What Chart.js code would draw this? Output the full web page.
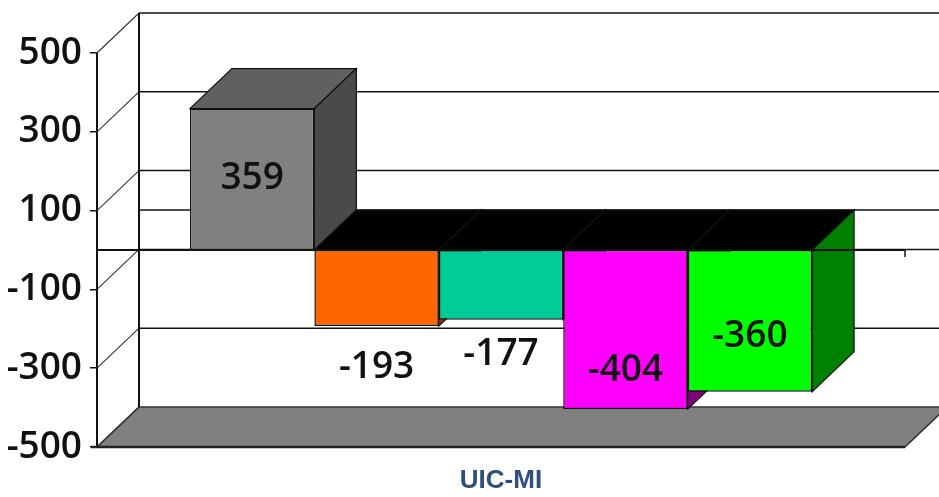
<!DOCTYPE html>
<html>
<head>
<meta charset="utf-8">
<title>UIC-MI</title>
<script src="https://cdn.jsdelivr.net/npm/chart.js@4.4.1/dist/chart.umd.min.js"></script>
<style>
    html, body { margin: 0; background: #fff; }
    canvas { display: block; }
</style>
</head>
<body>
<canvas id="grafico" width="939" height="497"></canvas>
<script>
// Datos del gráfico
const categorias = ['UIC-MI'];
const series = ['Serie 1', 'Serie 2', 'Serie 3', 'Serie 4', 'Serie 5'];
const valores = [359, -193, -177, -404, -360];
const ticksY = [-500, -300, -100, 100, 300, 500];

// Colores de cada barra: frente, tapa y lado
const coloresFrente = ['#808080', '#ff6600', '#00cc99', '#ff00ff', '#00ff00'];
const coloresTapa = ['#606060', '#000000', '#000000', '#000000', '#000000'];
const coloresLado = ['#4a4a4a', '#993d00', '#007a5c', '#800080', '#008000'];

// Desplazamiento vertical de las etiquetas respecto al extremo de la barra
const desplazEtiquetas = [70, 41, 35, -39, -55];

// Profundidad del efecto 3D
const prof = { dx: 42, dy: -40 };

const fuente = '"Open Sans", "Liberation Sans", sans-serif';

function poligono(ctx, puntos, relleno, borde, grosor) {
    ctx.beginPath();
    ctx.moveTo(puntos[0][0], puntos[0][1]);
    for (let i = 1; i < puntos.length; i++) ctx.lineTo(puntos[i][0], puntos[i][1]);
    ctx.closePath();
    if (relleno) { ctx.fillStyle = relleno; ctx.fill(); }
    if (borde) { ctx.strokeStyle = borde; ctx.lineWidth = grosor || 1; ctx.stroke(); }
}

function linea(ctx, x1, y1, x2, y2, color, grosor) {
    ctx.beginPath();
    ctx.moveTo(x1, y1);
    ctx.lineTo(x2, y2);
    ctx.strokeStyle = color;
    ctx.lineWidth = grosor;
    ctx.stroke();
}

// Plugin que dibuja paredes, suelo y caras laterales de las barras
const efecto3D = {
    id: 'efecto3D',
    beforeDatasetsDraw(chart) {
        const { ctx, chartArea: a, scales: { y } } = chart;
        const { dx, dy } = prof;
        ctx.save();

        // Suelo en el valor mínimo
        const ySuelo = y.getPixelForValue(ticksY[0]);
        poligono(ctx, [[a.left, ySuelo], [a.right, ySuelo], [a.right + dx, ySuelo + dy], [a.left + dx, ySuelo + dy]], '#808080', '#333', 1.5);

        // Líneas de la pared del fondo y diagonales de la pared izquierda
        ticksY.concat([0]).forEach((v) => {
            const py = y.getPixelForValue(v);
            if (v !== ticksY[0]) linea(ctx, a.left + dx, py + dy, a.right + dx + 10, py + dy, '#111', 1.5);
            if (v !== 0) linea(ctx, a.left, py, a.left + dx, py + dy, '#333', 1.1);
        });
        linea(ctx, a.left + dx, a.top + dy, a.left + dx, ySuelo + dy, '#111', 2);

        // Caras superiores y laterales de cada barra
        chart.data.datasets.forEach((ds, i) => {
            const el = chart.getDatasetMeta(i).data[0];
            const p = el.getProps(['x', 'y', 'base', 'width'], true);
            const izq = p.x - p.width / 2;
            const der = p.x + p.width / 2;
            const arriba = Math.min(p.y, p.base);
            const abajo = Math.max(p.y, p.base);
            poligono(ctx, [[izq, arriba], [der, arriba], [der + dx, arriba + dy], [izq + dx, arriba + dy]], coloresTapa[i], '#111', 1.2);
            poligono(ctx, [[der, arriba], [der + dx, arriba + dy], [der + dx, abajo + dy], [der, abajo]], coloresLado[i], '#111', 1.2);
        });
        ctx.restore();
    },
    afterDatasetsDraw(chart) {
        const { ctx, chartArea: a, scales: { y } } = chart;
        ctx.save();

        // Eje de categorías en el cero (frente)
        const y0 = y.getPixelForValue(0);
        linea(ctx, a.left, y0, a.right, y0, '#111', 2);
        linea(ctx, a.right, y0, a.right, y0 + 7, '#111', 1.5);

        // Borde inferior del suelo
        const ySuelo = y.getPixelForValue(ticksY[0]);
        linea(ctx, a.left - 6, ySuelo, a.right, ySuelo, '#222', 2.5);

        // Etiquetas de valores
        ctx.font = '600 37px ' + fuente;
        ctx.fillStyle = '#111';
        ctx.textAlign = 'center';
        ctx.textBaseline = 'middle';
        chart.data.datasets.forEach((ds, i) => {
            const el = chart.getDatasetMeta(i).data[0];
            ctx.fillText(String(ds.data[0]), el.x, el.y + desplazEtiquetas[i]);
        });
        ctx.restore();
    }
};

document.addEventListener('DOMContentLoaded', () => {
    const ctx = document.getElementById('grafico').getContext('2d');
    new Chart(ctx, {
        type: 'bar',
        data: {
            labels: categorias,
            datasets: series.map((nombre, i) => ({
                label: nombre,
                data: [valores[i]],
                backgroundColor: coloresFrente[i],
                borderColor: '#111',
                borderWidth: 1.5,
                borderSkipped: false,
                categoryPercentage: 0.77,
                barPercentage: 1.0
            }))
        },
        options: {
            responsive: false,
            animation: false,
            devicePixelRatio: 1,
            layout: { padding: { top: 53, right: 34, left: 0, bottom: 0 } },
            plugins: {
                legend: { display: false },
                tooltip: { enabled: false }
            },
            scales: {
                x: {
                    grid: { display: false },
                    border: { display: false },
                    ticks: {
                        color: '#2f4f7f',
                        font: { family: '"Liberation Sans Narrow", "Liberation Sans", sans-serif', size: 26, weight: 'bold' },
                        padding: 10
                    },
                    afterFit(scale) { scale.height = 50; }
                },
                y: {
                    min: ticksY[0],
                    max: ticksY[ticksY.length - 1],
                    afterBuildTicks(scale) {
                        scale.ticks = ticksY.map((v) => ({ value: v }));
                    },
                    grid: { drawOnChartArea: false, drawTicks: true, tickLength: 7, color: '#111', lineWidth: 1.5 },
                    border: { display: true, color: '#111', width: 2 },
                    ticks: {
                        color: '#111',
                        font: { family: fuente, size: 37, weight: '600' },
                        padding: 8
                    },
                    afterFit(scale) { scale.width = 97; }
                }
            }
        },
        plugins: [efecto3D]
    });
});
</script>
</body>
</html>
